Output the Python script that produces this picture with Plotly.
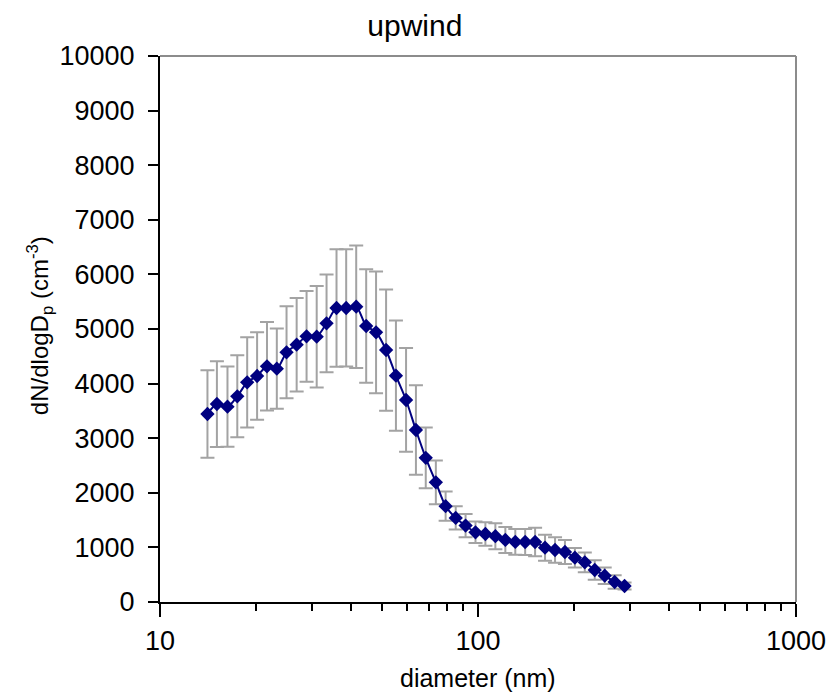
import plotly.graph_objects as go

diameter_nm = [14.1, 15.1, 16.3, 17.5, 18.8, 20.2, 21.7, 23.3, 25.0, 26.9, 28.9, 31.1,
               33.4, 35.9, 38.5, 41.4, 44.5, 47.8, 51.4, 55.2, 59.4, 63.8, 68.5, 73.7,
               79.1, 85.1, 91.4, 98.2, 105.5, 113.4, 121.9, 131.0, 140.7, 151.2, 162.5,
               174.7, 187.7, 201.7, 216.7, 232.9, 250.3, 269.0, 289.0]

dN_dlogDp = [3443, 3626, 3577, 3767, 4024, 4139, 4317, 4273, 4573, 4712, 4866, 4859,
             5104, 5385, 5385, 5408, 5055, 4940, 4615, 4145, 3700, 3150, 2640, 2192,
             1755, 1540, 1400, 1277, 1245, 1205, 1136, 1100, 1099, 1099, 995,
             952, 916, 811, 727, 586, 482, 366, 293]

std_dev = [803, 785, 735, 751, 827, 803, 809, 735, 842, 858, 830, 929,
           895, 1075, 1074, 1120, 1040, 1115, 1110, 1010, 950, 820, 555, 400,
           268, 214, 214, 198, 214, 238, 238, 235, 238, 260, 238,
           232, 220, 179, 181, 178, 152, 125, 64]

x_ticks = [10, 100, 1000]
x_labels = ["10", "100", "1000"]
y_ticks = [0, 1000, 2000, 3000, 4000, 5000, 6000, 7000, 8000, 9000, 10000]
y_labels = ["0", "1000", "2000", "3000", "4000", "5000", "6000", "7000", "8000", "9000", "10000"]

FONT = "Arial, Liberation Sans, sans-serif"

fig = go.Figure()
fig.add_trace(go.Scatter(
    x=diameter_nm, y=dN_dlogDp,
    mode="lines+markers",
    line=dict(color="#000080", width=2, shape="spline", smoothing=0.8),
    marker=dict(symbol="diamond", size=11, color="#000080"),
    error_y=dict(type="data", array=std_dev, visible=True,
                 color="#A3A3A3", thickness=2, width=7),
    showlegend=False,
))

# top and right frame (grey)
fig.add_shape(type="line", xref="paper", yref="paper", x0=0, x1=1, y0=1, y1=1,
              line=dict(color="#8C8C8C", width=2))
fig.add_shape(type="line", xref="paper", yref="paper", x0=1, x1=1, y0=0, y1=1,
              line=dict(color="#8C8C8C", width=2))

fig.update_layout(
    width=838, height=693,
    margin=dict(l=160, r=36, t=56, b=91),
    paper_bgcolor="white", plot_bgcolor="white",
    font=dict(family=FONT, color="black"),
    title=dict(text="upwind", x=0.495, xref="container", xanchor="center",
               y=1 - 25 / 693, yref="container", yanchor="middle",
               font=dict(size=30, family=FONT, color="black")),
    xaxis=dict(type="log", range=[1, 3], tickvals=x_ticks, ticktext=x_labels,
               showgrid=False, zeroline=False,
               showline=True, linecolor="black", linewidth=2,
               ticks="outside", ticklen=13, tickwidth=1.5, tickcolor="black",
               tickfont=dict(size=27, family=FONT, color="black"),
               ticklabelstandoff=1,
               minor=dict(ticks="outside", ticklen=7, tickwidth=1.5,
                          tickcolor="black", dtick="D1", showgrid=False)),
    yaxis=dict(range=[0, 10000], tickvals=y_ticks, ticktext=y_labels,
               showgrid=False, zeroline=False,
               showline=True, linecolor="black", linewidth=2,
               ticks="outside", ticklen=10, tickwidth=1.5, tickcolor="black",
               tickfont=dict(size=27, family=FONT, color="black"),
               ticklabelstandoff=8),
    annotations=[
        dict(text="diameter (nm)", xref="paper", yref="paper",
             x=0.5, y=-(678 - 602) / (602 - 56), xanchor="center", yanchor="middle",
             showarrow=False, font=dict(size=25, family=FONT, color="black")),
        dict(text="dN/dlogD<sub>p</sub> (cm<sup>-3</sup>)", xref="paper", yref="paper",
             x=-(160 - 39) / (802 - 160), y=(602 - 326) / (602 - 56),
             xanchor="center", yanchor="middle", textangle=-90,
             showarrow=False, font=dict(size=24, family=FONT, color="black")),
    ],
)

fig.write_html("out.html")
